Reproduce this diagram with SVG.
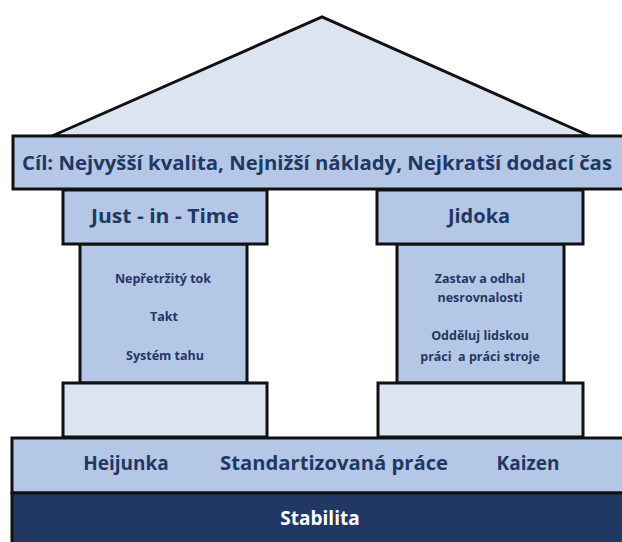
<svg xmlns="http://www.w3.org/2000/svg" width="622" height="542" viewBox="0 0 622 542">
  <style>
    .frame { stroke: #111; stroke-width: 3; stroke-linejoin: miter; }
    .mid { fill: #B4C7E7; }
    .pale { fill: #DDE4F1; }
    .t { font-family: "Open Sans", "Noto Sans", "DejaVu Sans", sans-serif; font-weight: bold; fill: #1F3864; text-anchor: middle; }
    .big { font-size: 20px; }
    .band { font-size: 19px; }
    .small { font-size: 12.5px; }
  </style>
  <rect width="622" height="542" fill="#ffffff"/>

  <!-- roof -->
  <g id="roof">
    <polygon class="frame pale" points="52,136 322,17 590,136"/>
  </g>

  <!-- goal beam -->
  <g id="goal">
    <rect class="frame mid" x="13" y="136" width="612" height="53"/>
    <text class="t big" x="317" y="170" textLength="590" lengthAdjust="spacingAndGlyphs">Cíl: Nejvyšší kvalita, Nejnižší náklady, Nejkratší dodací čas</text>
  </g>

  <!-- left pillar -->
  <g id="jit">
    <rect class="frame mid" x="80" y="244" width="167" height="139"/>
    <rect class="frame mid" x="63" y="190" width="204" height="54"/>
    <rect class="frame pale" x="63" y="383" width="204" height="54"/>
    <text class="t big" x="165" y="223" textLength="148" lengthAdjust="spacingAndGlyphs">Just - in - Time</text>
    <text class="t small" x="163" y="283">Nepřetržitý tok</text>
    <text class="t small" x="164" y="321">Takt</text>
    <text class="t small" x="165" y="360">Systém tahu</text>
  </g>

  <!-- right pillar -->
  <g id="jidoka">
    <rect class="frame mid" x="397" y="244" width="167" height="139"/>
    <rect class="frame mid" x="377" y="190" width="206" height="54"/>
    <rect class="frame pale" x="378" y="383" width="205" height="54"/>
    <text class="t big" x="479" y="223">Jidoka</text>
    <text class="t small" x="480" y="283">Zastav a odhal</text>
    <text class="t small" x="480" y="302">nesrovnalosti</text>
    <text class="t small" x="480" y="340">Odděluj lidskou</text>
    <text class="t small" x="480" y="361" xml:space="preserve">práci  a práci stroje</text>
  </g>

  <!-- foundation -->
  <g id="foundation">
    <rect class="frame mid" x="12" y="438" width="613" height="55"/>
    <text class="t band" x="126" y="470">Heijunka</text>
    <text class="t band" x="334" y="470" textLength="228" lengthAdjust="spacingAndGlyphs">Standartizovaná práce</text>
    <text class="t band" x="528" y="470">Kaizen</text>
  </g>

  <!-- base -->
  <g id="stability">
    <rect x="12" y="493" width="613" height="52" fill="#213864" stroke="#111" stroke-width="3"/>
    <text class="t band" x="320" y="525" style="fill:#ffffff">Stabilita</text>
  </g>

  <g id="connectors"/>
</svg>
